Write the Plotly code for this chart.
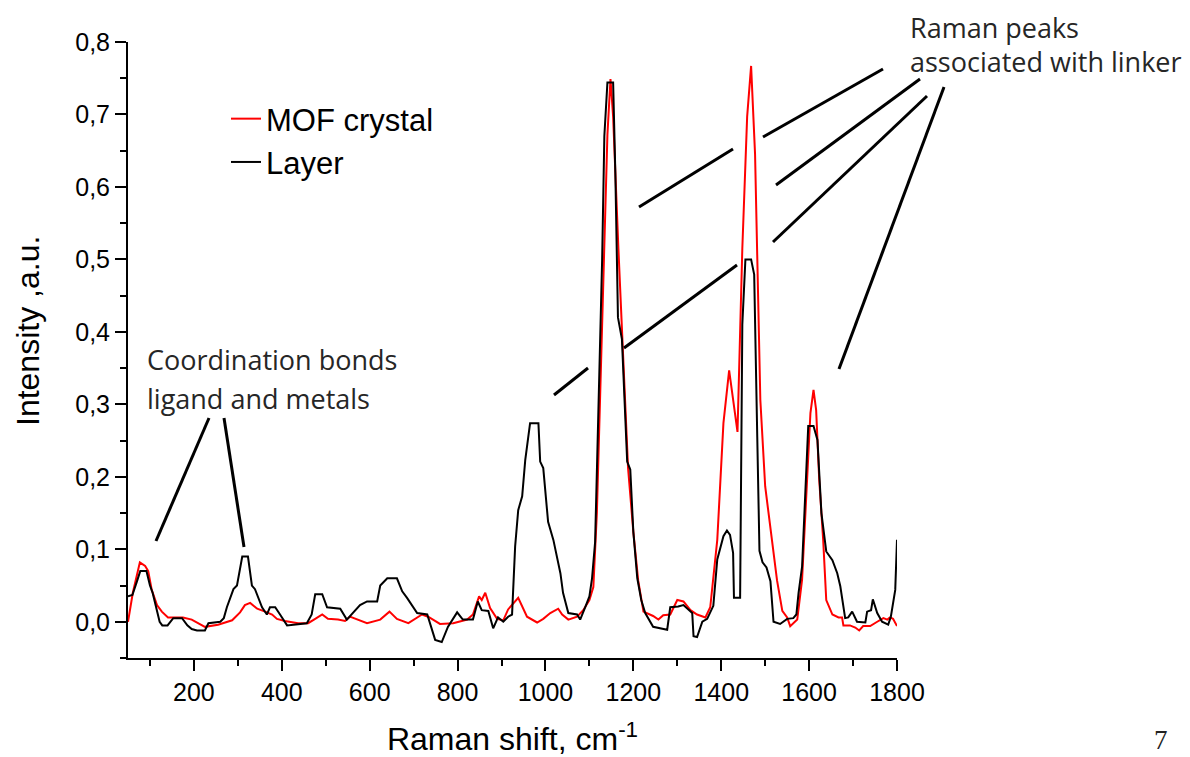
import plotly.graph_objects as go

# ---- data ----
mof_x = [50, 61, 77, 89, 96, 104, 116, 127, 141, 175, 195, 225, 255, 287, 305, 316, 328, 344, 362, 378,
         389, 407, 437, 460, 476, 492, 505, 528, 544, 555, 594, 624, 645, 662, 688, 719, 733, 760, 790, 822,
         835, 849, 855, 863, 874, 890, 904, 915, 938, 958, 981, 995, 1011, 1029, 1038, 1052, 1072, 1086, 1100, 1109,
         1117, 1129, 1141, 1148, 1154, 1166, 1177, 1188, 1200, 1211, 1223, 1245, 1257, 1268, 1284, 1300, 1314, 1330, 1345, 1364,
         1375, 1391, 1405, 1418, 1437, 1448, 1459, 1468, 1477, 1489, 1500, 1512, 1527, 1539, 1550, 1557, 1573, 1584, 1596, 1603,
         1610, 1616, 1623, 1632, 1639, 1653, 1667, 1675, 1678, 1693, 1705, 1714, 1723, 1739, 1755, 1769, 1778, 1784, 1791, 1800]
mof_y = [0.0, 0.04, 0.082, 0.077, 0.07, 0.044, 0.023, 0.014, 0.006, 0.006, 0.003, -0.007, -0.004, 0.002, 0.013, 0.023, 0.026, 0.018, 0.014, 0.01,
         0.004, 0.001, -0.002, -0.002, 0.004, 0.01, 0.004, 0.003, 0.001, 0.007, -0.002, 0.003, 0.014, 0.004, -0.002, 0.01, 0.007, -0.003, -0.002, 0.003,
         0.01, 0.035, 0.03, 0.04, 0.019, 0.004, 0.002, 0.017, 0.033, 0.007, -0.001, 0.004, 0.012, 0.018, 0.01, 0.003, 0.007, 0.016, 0.03, 0.048,
         0.15, 0.41, 0.672, 0.749, 0.697, 0.515, 0.358, 0.212, 0.124, 0.057, 0.014, 0.008, 0.003, 0.009, 0.01, 0.03, 0.028, 0.016, 0.01, 0.006,
         0.02, 0.113, 0.274, 0.347, 0.262, 0.515, 0.697, 0.767, 0.645, 0.306, 0.187, 0.13, 0.057, 0.015, 0.006, -0.006, 0.003, 0.058, 0.196, 0.288,
         0.32, 0.292, 0.196, 0.113, 0.03, 0.01, 0.006, 0.006, -0.005, -0.005, -0.008, -0.012, -0.006, -0.006, 0.0, 0.005, 0.003, 0.006, 0.004, -0.006]

layer_x = [50, 60, 70, 78, 92, 100, 106, 115, 122, 128, 140, 153, 173, 185, 195, 207, 225, 233, 260, 268,
           275, 290, 298, 310, 323, 332, 339, 355, 366, 373, 385, 396, 412, 457, 468, 476, 492, 503, 533, 548,
           562, 578, 594, 617, 624, 640, 662, 674, 685, 708, 731, 749, 764, 778, 799, 812, 835, 846, 855, 870,
           881, 892, 904, 915, 924, 931, 938, 947, 954, 965, 984, 988, 995, 1006, 1018, 1034, 1040, 1052, 1072, 1079,
           1091, 1100, 1106, 1113, 1120, 1129, 1134, 1141, 1154, 1159, 1165, 1174, 1186, 1193, 1200, 1209, 1218, 1227, 1245, 1277,
           1284, 1302, 1314, 1334, 1337, 1345, 1357, 1368, 1382, 1391, 1405, 1413, 1420, 1427, 1429, 1443, 1448, 1455, 1468, 1475,
           1482, 1487, 1494, 1503, 1512, 1519, 1534, 1541, 1550, 1564, 1571, 1576, 1584, 1591, 1598, 1610, 1619, 1628, 1639, 1653,
           1664, 1671, 1682, 1689, 1698, 1709, 1728, 1732, 1741, 1745, 1755, 1766, 1780, 1786, 1796, 1800]
layer_y = [0.035, 0.037, 0.055, 0.07, 0.07, 0.05, 0.04, 0.015, 0.0, -0.005, -0.005, 0.005, 0.005, -0.005, -0.01, -0.012, -0.012, -0.002, 0.0, 0.005,
           0.02, 0.045, 0.05, 0.09, 0.09, 0.05, 0.045, 0.02, 0.01, 0.02, 0.02, 0.01, -0.005, -0.002, 0.01, 0.038, 0.038, 0.02, 0.018, 0.003,
           0.012, 0.023, 0.028, 0.028, 0.05, 0.06, 0.06, 0.042, 0.033, 0.012, 0.01, -0.025, -0.028, -0.007, 0.013, 0.003, 0.003, 0.028, 0.016, 0.015,
           -0.009, 0.006, 0.0, 0.007, 0.01, 0.104, 0.154, 0.173, 0.223, 0.274, 0.274, 0.221, 0.212, 0.138, 0.113, 0.067, 0.04, 0.012, 0.01, 0.003,
           0.021, 0.035, 0.06, 0.11, 0.28, 0.5, 0.67, 0.744, 0.744, 0.62, 0.42, 0.39, 0.221, 0.21, 0.124, 0.06, 0.03, 0.012, -0.007, -0.011,
           0.02, 0.021, 0.023, 0.012, -0.02, -0.021, 0.0, 0.004, 0.022, 0.086, 0.118, 0.126, 0.12, 0.095, 0.033, 0.033, 0.41, 0.5, 0.5, 0.479,
           0.255, 0.098, 0.082, 0.075, 0.056, 0.0, -0.003, 0.0, 0.004, 0.005, 0.01, 0.04, 0.076, 0.173, 0.27, 0.27, 0.251, 0.15, 0.097, 0.085,
           0.067, 0.049, 0.005, 0.006, 0.014, 0.0, -0.001, 0.014, 0.016, 0.031, 0.012, 0.0, -0.004, 0.007, 0.044, 0.113]

series_names = ["MOF crystal", "Layer"]
x_title = "Raman shift, cm<sup>-1</sup>"
y_title = "Intensity ,a.u."
note_left = ["Coordination bonds", "ligand and metals"]
note_right = ["Raman peaks", "associated with linker"]
page_number = "7"

# ---- layout geometry (window pixels; the page body has an 8px margin) ----
OFF = 8
W, H = 1190 - OFF, 757 - OFF
L, R, T, B = 128, 897, 42, 658   # plot area in window pixels


def px(x):
    return (x - L) / (R - L)


def py(y):
    return (B - y) / (B - T)


# pointer lines (window-pixel endpoints of the hand-drawn annotation strokes)
pointer_lines = [
    ((209, 418), (156, 541)),
    ((224, 418), (244, 547)),
    ((883, 69), (763, 137)),
    ((733, 149), (639, 207)),
    ((920, 79), (776, 185)),
    ((927, 96), (773, 242)),
    ((737, 265), (624, 348)),
    ((588, 368), (554, 395)),
    ((944, 87), (839, 369)),
]

fig = go.Figure()
fig.add_trace(go.Scatter(x=mof_x, y=mof_y, mode="lines", name=series_names[0],
                         line=dict(color="#ff0000", width=2)))
fig.add_trace(go.Scatter(x=layer_x, y=layer_y, mode="lines", name=series_names[1],
                         line=dict(color="#000000", width=2)))

shapes = []
for (x0, y0), (x1, y1) in pointer_lines:
    shapes.append(dict(type="line", xref="paper", yref="paper",
                       x0=px(x0), y0=py(y0), x1=px(x1), y1=py(y1),
                       line=dict(color="black", width=3)))

sans = "Liberation Sans, Arial, sans-serif"
note_font = dict(family="Open Sans, Noto Sans, sans-serif", size=27, color="#262626")
title_font = dict(family=sans, size=32, color="black")
axis_font = dict(family=sans, size=25, color="black")

annotations = []
for i, t in enumerate(note_left):
    annotations.append(dict(text=t, xref="paper", yref="paper", x=px(145), y=py(360 + 38 * i),
                            xanchor="left", yanchor="middle", showarrow=False, font=note_font))
for i, t in enumerate(note_right):
    annotations.append(dict(text=t, xref="paper", yref="paper", x=px(908), y=py(27 + 35 * i),
                            xanchor="left", yanchor="middle", showarrow=False, font=note_font))
annotations.append(dict(text=page_number, xref="paper", yref="paper", x=px(1161), y=py(757),
                        xanchor="center", yanchor="bottom", showarrow=False,
                        font=dict(family="Liberation Serif, serif", size=27, color="#222222")))
# y-axis title (placed as rotated text, as in the original it sits above centre)
annotations.append(dict(text=y_title, xref="paper", yref="paper", x=px(28), y=py(331),
                        xanchor="center", yanchor="middle", textangle=-90, showarrow=False,
                        borderpad=0, font=title_font))

fig.update_layout(
    width=W, height=H,
    margin=dict(l=L - OFF, r=W - (R - OFF), t=T - OFF, b=H - (B - OFF), autoexpand=False),
    paper_bgcolor="white", plot_bgcolor="white",
    separators=",.",
    showlegend=True,
    legend=dict(x=px(226), y=py(92), xanchor="left", yanchor="top",
                font=dict(family=sans, size=31, color="black"),
                bgcolor="rgba(0,0,0,0)", borderwidth=0, tracegroupgap=0),
    shapes=shapes,
    annotations=annotations,
    xaxis=dict(range=[50, 1800], tick0=0, dtick=200, ticks="outside", ticklen=11, tickwidth=2,
               tickcolor="black", showline=True, linecolor="black", linewidth=2,
               showgrid=False, zeroline=False, tickfont=axis_font,
               minor=dict(dtick=100, tick0=0, ticks="outside", ticklen=6, tickwidth=2, tickcolor="black"),
               title=dict(text=x_title, font=title_font, standoff=24)),
    yaxis=dict(range=[-0.05, 0.8], tick0=0, dtick=0.1, tickformat=".1f", ticks="outside", ticklen=11,
               tickwidth=2, tickcolor="black", showline=True, linecolor="black", linewidth=2,
               showgrid=False, zeroline=False, tickfont=axis_font,
               minor=dict(dtick=0.05, tick0=0, ticks="outside", ticklen=6, tickwidth=2, tickcolor="black")),
)

fig.write_html("out.html")
